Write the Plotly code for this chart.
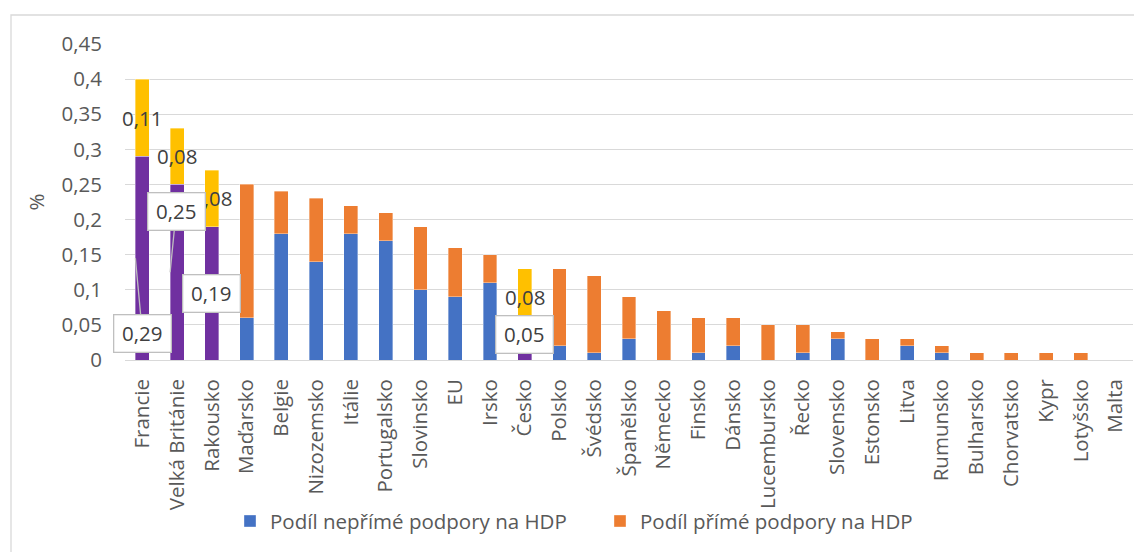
import plotly.graph_objects as go

# Countries, ordered by total support as share of GDP
countries = ["Francie", "Velká Británie", "Rakousko", "Maďarsko", "Belgie", "Nizozemsko",
             "Itálie", "Portugalsko", "Slovinsko", "EU", "Irsko", "Česko", "Polsko",
             "Švédsko", "Španělsko", "Německo", "Finsko", "Dánsko", "Lucembursko",
             "Řecko", "Slovensko", "Estonsko", "Litva", "Rumunsko", "Bulharsko",
             "Chorvatsko", "Kypr", "Lotyšsko", "Malta"]

# Indirect support (% of GDP)
indirect = [0.29, 0.25, 0.19, 0.06, 0.18, 0.14, 0.18, 0.17, 0.10, 0.09, 0.11, 0.05, 0.02,
            0.01, 0.03, 0.00, 0.01, 0.02, 0.00, 0.01, 0.03, 0.00, 0.02, 0.01, 0.00,
            0.00, 0.00, 0.00, 0.00]

# Direct support (% of GDP)
direct = [0.11, 0.08, 0.08, 0.19, 0.06, 0.09, 0.04, 0.04, 0.09, 0.07, 0.04, 0.08, 0.11,
          0.11, 0.06, 0.07, 0.05, 0.04, 0.05, 0.04, 0.01, 0.03, 0.01, 0.01, 0.01,
          0.01, 0.01, 0.01, 0.00]

# Countries drawn in accent colours with value labels
highlighted = ["Francie", "Velká Británie", "Rakousko", "Česko"]

y_tick_vals = [0, 0.05, 0.1, 0.15, 0.2, 0.25, 0.3, 0.35, 0.4, 0.45]
y_tick_text = ["0", "0,05", "0,1", "0,15", "0,2", "0,25", "0,3", "0,35", "0,4", "0,45"]

name_indirect = "Podíl nepřímé podpory na HDP"
name_direct = "Podíl přímé podpory na HDP"

BLUE, ORANGE, PURPLE, YELLOW = "#4472C4", "#ED7D31", "#7030A0", "#FFC000"
TEXT = "#595959"
LABEL = "#404040"
FONT = "Open Sans, Arial, sans-serif"
FS = 20.5


def fmt(v):
    return f"{v:.2f}".replace(".", ",")


def mask(values, keep):
    return [v if keep(c) else None for c, v in zip(countries, values)]


is_hl = lambda c: c in highlighted
not_hl = lambda c: c not in highlighted

edge = dict(color="rgba(255,255,255,0.45)", width=0.8)

fig = go.Figure()
fig.add_bar(x=countries, y=mask(indirect, not_hl), name=name_indirect,
            marker=dict(color=BLUE, line=edge))
fig.add_bar(x=countries, y=mask(indirect, is_hl), name=name_indirect, showlegend=False,
            marker=dict(color=PURPLE, line=edge))
fig.add_bar(x=countries, y=mask(direct, not_hl), name=name_direct,
            marker=dict(color=ORANGE, line=edge))
fig.add_bar(x=countries, y=mask(direct, is_hl), name=name_direct, showlegend=False,
            marker=dict(color=YELLOW, line=edge))

# Labels for the direct part (plain text, centred in the segment)
for c in highlighted:
    i = countries.index(c)
    fig.add_annotation(x=c, y=indirect[i] + direct[i] / 2, text=fmt(direct[i]),
                       showarrow=False, font=dict(family=FONT, size=FS, color=LABEL))

# Callout labels for the indirect part: (country, xshift, ax, ay, yshift, arrow)
callouts = [
    ("Francie", -7, 7, 75, 0, True),
    ("Velká Británie", -7, 6, -61, 0, True),
    ("Rakousko", 0, 0, 0, 0, False),
    ("Česko", 0, 0, 0, 8, False),
]
for c, xs, ax, ay, ys, arrow in callouts:
    i = countries.index(c)
    fig.add_annotation(
        x=c, y=indirect[i] / 2, text=fmt(indirect[i]), xshift=xs, yshift=ys,
        showarrow=arrow, ax=ax, ay=ay, arrowhead=0, arrowwidth=1.3,
        arrowcolor="#BFBFBF", standoff=0,
        bgcolor="white", bordercolor="#BFBFBF", borderwidth=1.3, borderpad=2,
        width=52, height=32,
        font=dict(family=FONT, size=FS, color=LABEL))

# Outer chart border
fig.add_shape(type="rect", xref="paper", yref="paper",
              x0=(11 - 125) / 1008, x1=(1145 - 125) / 1008,
              y0=(360 - 570) / 316, y1=(360 - 15) / 316,
              line=dict(color="#D9D9D9", width=1.3), fillcolor="rgba(0,0,0,0)", layer="below")

fig.update_layout(
    width=1134, height=552,
    margin=dict(l=125, r=1, t=44, b=192, autoexpand=False),
    barmode="stack", bargap=0.6,
    plot_bgcolor="white", paper_bgcolor="white",
    font=dict(family=FONT, size=FS, color=TEXT),
    legend=dict(orientation="h", x=(230 - 125) / 1008, xanchor="left",
                y=-0.51, yanchor="middle", entrywidth=325, entrywidthmode="pixels",
                bgcolor="rgba(0,0,0,0)",
                font=dict(family=FONT, size=FS, color=TEXT), traceorder="normal"),
    showlegend=True,
)
fig.update_xaxes(range=[-0.5, len(countries) - 0.5], autorange=False,
                 tickangle=-90, showgrid=False, showline=False, ticks="",
                 ticklabelstandoff=14, tickfont=dict(family=FONT, size=FS, color=TEXT))
fig.update_yaxes(range=[0, 0.45], tickvals=y_tick_vals, ticktext=y_tick_text,
                 showgrid=True, gridcolor="#D9D9D9", gridwidth=1.3,
                 zeroline=True, zerolinecolor="#D9D9D9", zerolinewidth=1.3,
                 showline=False, ticks="", ticklabelstandoff=22,
                 tickfont=dict(family=FONT, size=FS, color=TEXT),
                 title=dict(text="%", standoff=11, font=dict(family=FONT, size=FS, color=TEXT)))

fig.write_html("out.html")
